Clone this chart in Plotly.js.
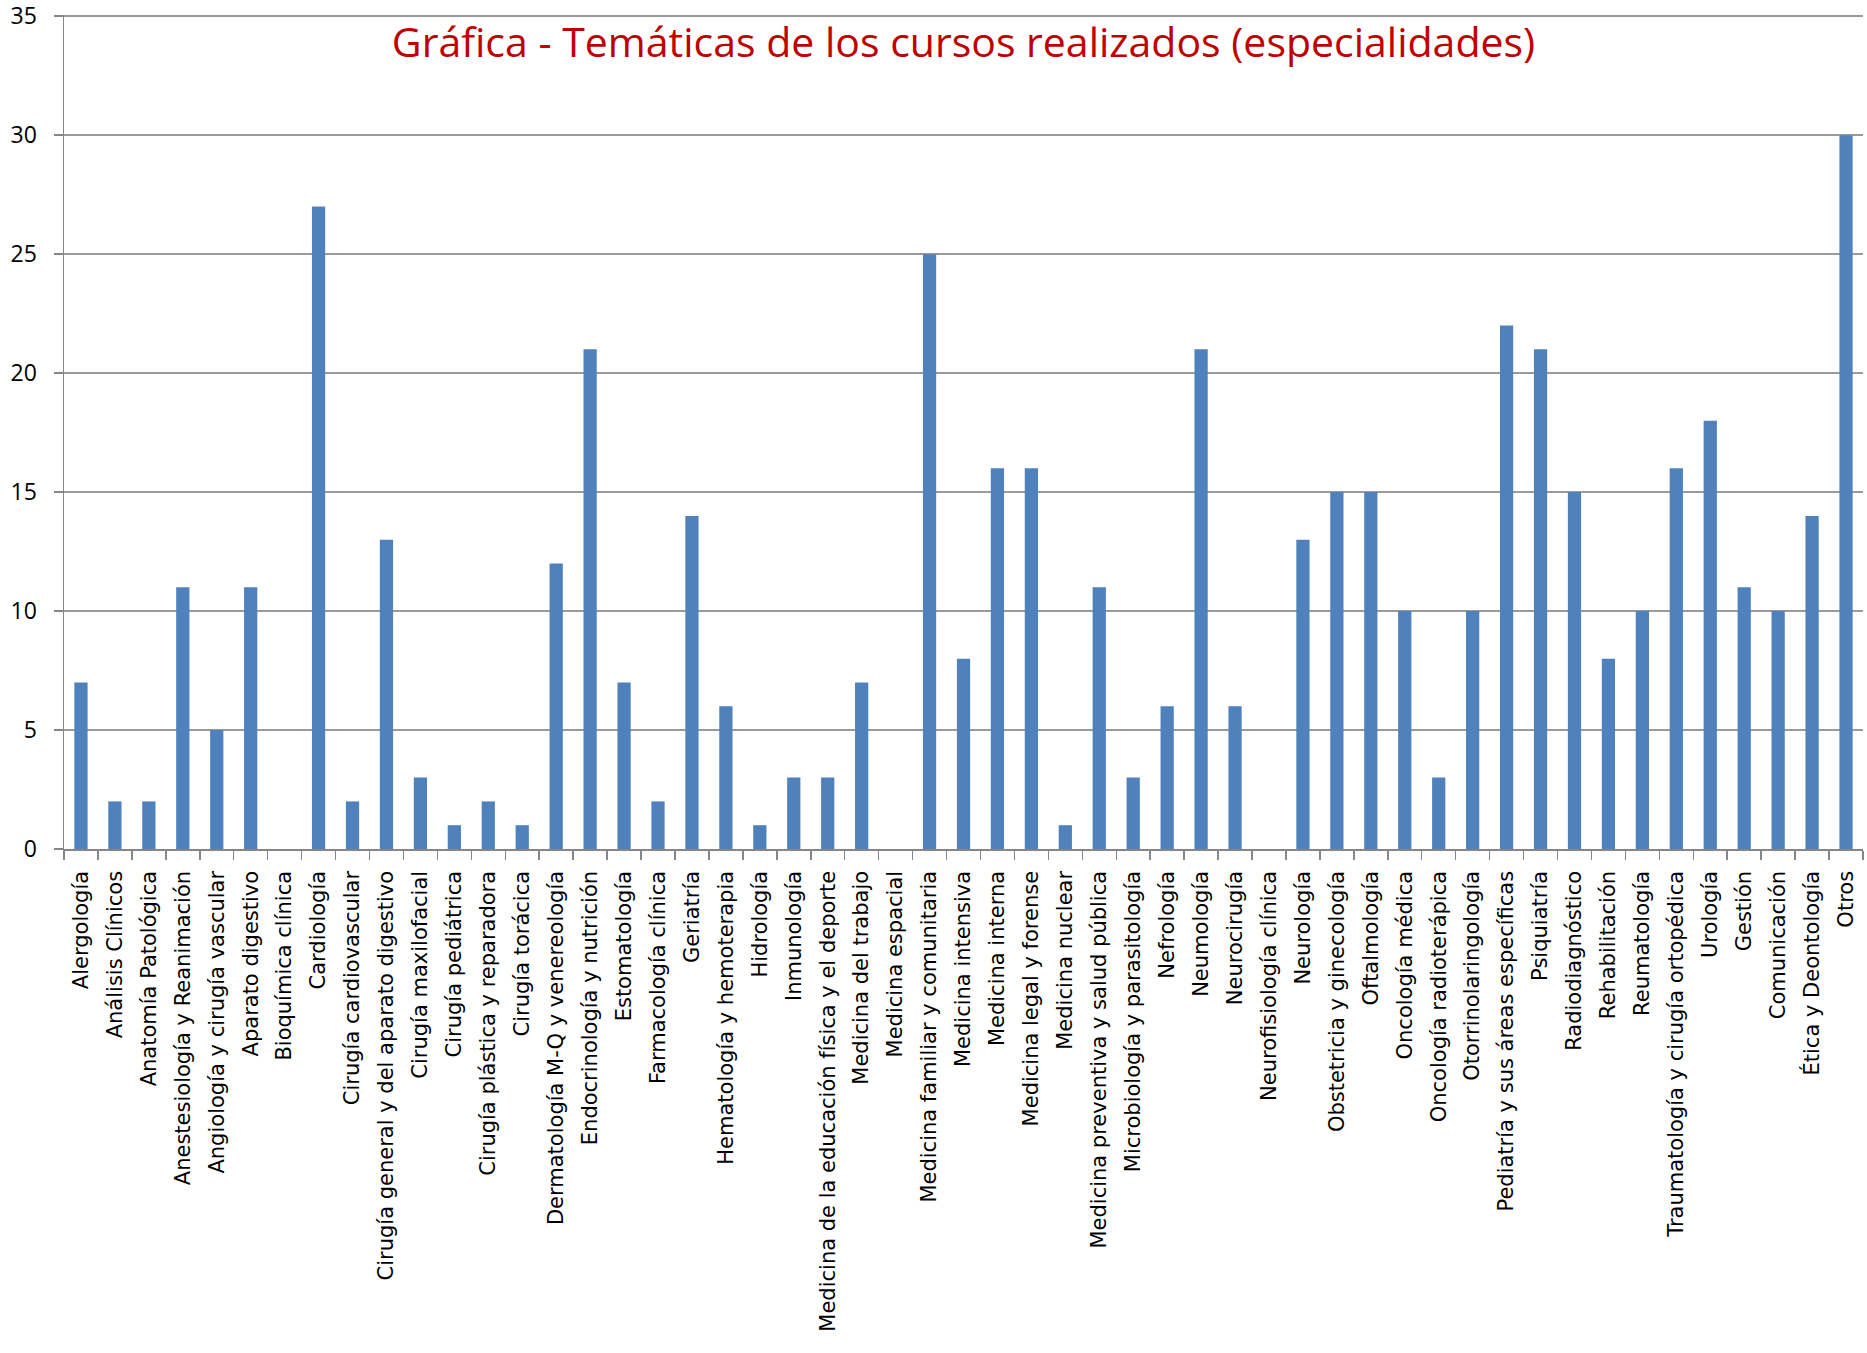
<!DOCTYPE html>
<html>
<head>
<meta charset="utf-8">
<script src="https://cdn.plot.ly/plotly-3.0.1.min.js"></script>
<style>html,body{margin:0;padding:0;background:#fff;}#chart{width:1867px;height:1353px;}</style>
</head>
<body>
<div id="chart"></div>
<script>
const categories = [
  "Alergología","Análisis Clínicos","Anatomía Patológica","Anestesiología y Reanimación",
  "Angiología y cirugía vascular","Aparato digestivo","Bioquímica clínica","Cardiología",
  "Cirugía cardiovascular","Cirugía general y del aparato digestivo","Cirugía maxilofacial",
  "Cirugía pediátrica","Cirugía plástica y reparadora","Cirugía torácica",
  "Dermatología M-Q y venereología","Endocrinología y nutrición","Estomatología",
  "Farmacología clínica","Geriatría","Hematología y hemoterapia","Hidrología","Inmunología",
  "Medicina de la educación física y el deporte","Medicina del trabajo","Medicina espacial",
  "Medicina familiar y comunitaria","Medicina intensiva","Medicina interna",
  "Medicina legal y forense","Medicina nuclear","Medicina preventiva y salud pública",
  "Microbiología y parasitología","Nefrología","Neumología","Neurocirugía",
  "Neurofisiología clínica","Neurología","Obstetricia y ginecología","Oftalmología",
  "Oncología médica","Oncología radioterápica","Otorrinolaringología",
  "Pediatría y sus áreas específicas","Psiquiatría","Radiodiagnóstico","Rehabilitación",
  "Reumatología","Traumatología y cirugía ortopédica","Urología","Gestión","Comunicación",
  "Ética y Deontología","Otros"
];
const values = [
  7,2,2,11,5,11,0,27,2,13,3,1,2,1,12,21,7,2,14,6,1,3,3,7,0,25,8,16,16,1,11,3,6,21,6,0,
  13,15,15,10,3,10,22,21,15,8,10,16,18,11,10,14,30
];
const yTicks = [0,5,10,15,20,25,30,35];
const titleText = "Gráfica - Temáticas de los cursos realizados (especialidades)";

const trace = {
  type: "bar",
  x: categories,
  y: values,
  marker: {color: "#4F81BD"},
  hoverinfo: "x+y"
};

const layout = {
  width: 1867, height: 1353,
  margin: {l: 64, r: 4, t: 15, b: 504, pad: 0},
  paper_bgcolor: "#ffffff", plot_bgcolor: "#ffffff",
  font: {family: "Open Sans, sans-serif", color: "#000000"},
  showlegend: false,
  bargap: 0.61,
  title: {
    text: titleText,
    font: {family: "Open Sans, sans-serif", size: 41, color: "#C00000"},
    x: 0.5, xref: "paper", xanchor: "center",
    y: 1 - 43/1353, yref: "container", yanchor: "middle"
  },
  xaxis: {
    type: "category",
    tickangle: -90,
    tickfont: {family: "DejaVu Sans, sans-serif", size: 21, color: "#000000"},
    ticks: "outside", ticklen: 9, tickcolor: "#868686", tickwidth: 1.5,
    tickson: "boundaries",
    ticklabelstandoff: 12,
    showline: true, linecolor: "#868686", linewidth: 1.5,
    showgrid: false, zeroline: false,
    automargin: false
  },
  yaxis: {
    range: [0, 35.05],
    tickvals: yTicks,
    ticktext: yTicks.map(String),
    tickfont: {size: 23, color: "#000000"},
    ticks: "outside", ticklen: 9, tickcolor: "#868686", tickwidth: 1.5,
    ticklabelstandoff: 12,
    ticklabeloverflow: "allow",
    showline: true, linecolor: "#868686", linewidth: 1.5,
    showgrid: true, gridcolor: "#9a9a9a", gridwidth: 1.5,
    zeroline: false,
    automargin: false
  }
};

Plotly.newPlot("chart", [trace], layout, {displayModeBar: false, staticPlot: true});
</script>
</body>
</html>
